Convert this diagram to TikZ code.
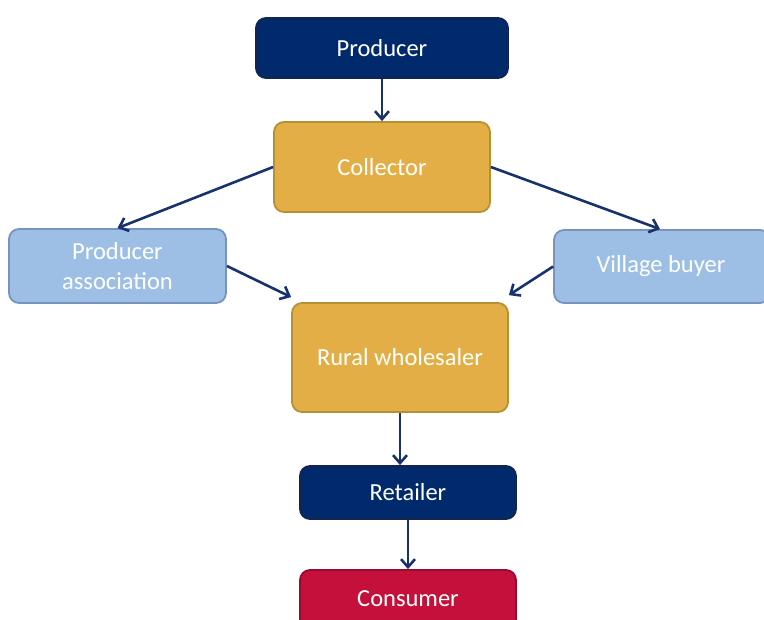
\documentclass[tikz,border=0pt]{standalone}
\usepackage{fontspec}
\setmainfont{Carlito}
\usetikzlibrary{arrows.meta}
\definecolor{navy}{RGB}{0,42,108}
\definecolor{navyedge}{RGB}{20,36,80}
\definecolor{gold}{RGB}{227,174,70}
\definecolor{goldedge}{RGB}{184,144,52}
\definecolor{skyblue}{RGB}{157,191,229}
\definecolor{skyedge}{RGB}{118,148,190}
\definecolor{crimson}{RGB}{196,16,58}
\definecolor{crimsonedge}{RGB}{150,12,44}
\definecolor{arrowc}{RGB}{24,50,110}
\tikzset{boxfont/.style={font=\fontsize{24.5}{30}\selectfont}}
\begin{document}
\begin{tikzpicture}[x=1pt,y=-1pt,
  box/.style={rounded corners=10pt, line width=1.8pt, text=white,
    boxfont, align=center, inner sep=0pt},
  darkbox/.style={box, fill=navy, draw=navyedge},
  goldbox/.style={box, fill=gold, draw=goldedge},
  bluebox/.style={box, fill=skyblue, draw=skyedge},
  redbox/.style={box, fill=crimson, draw=crimsonedge},
  flow/.style={draw=arrowc, line width=2.6pt, -{Straight Barb[length=8pt,width=14pt,line width=2.6pt]}}]
\useasboundingbox (0,0) rectangle (764,620);
\clip (0,0) rectangle (764,620);
\node[darkbox, minimum width=252pt, minimum height=60pt] (prod) at (382,48) {Producer};
\node[goldbox, minimum width=216pt, minimum height=90pt] (coll) at (382,167) {Collector};
\node[bluebox, minimum width=217pt, minimum height=74pt] (assoc) at (117.5,266) {Producer\\association};
\node[bluebox, minimum width=216pt, minimum height=73pt] (vill) at (662,266.5) {};
\node[text=white, boxfont] (villtext) at (661,266.5) {Village buyer};
\node[goldbox, minimum width=216pt, minimum height=109pt] (rural) at (400,357.5) {Rural wholesaler};
\node[darkbox, minimum width=216pt, minimum height=53pt] (ret) at (408,492.5) {Retailer};
\node[redbox, minimum width=216pt, minimum height=60pt] (cons) at (408,600) {};
\node[text=white, boxfont] (constext) at (408,599) {Consumer};
\draw[flow] (prod.south) -- (coll.north);
\draw[flow] (coll.west) -- (assoc.north);
\draw[flow] (coll.east) -- ([xshift=-2pt]vill.north);
\draw[flow] (assoc.east) -- ([yshift=5pt]rural.north west);
\draw[flow] (vill.west) -- ([yshift=7pt]rural.north east);
\draw[flow] (rural.south) -- (rural.south |- ret.north);
\draw[flow] (ret.south) -- (cons.north);
\end{tikzpicture}
\end{document}
